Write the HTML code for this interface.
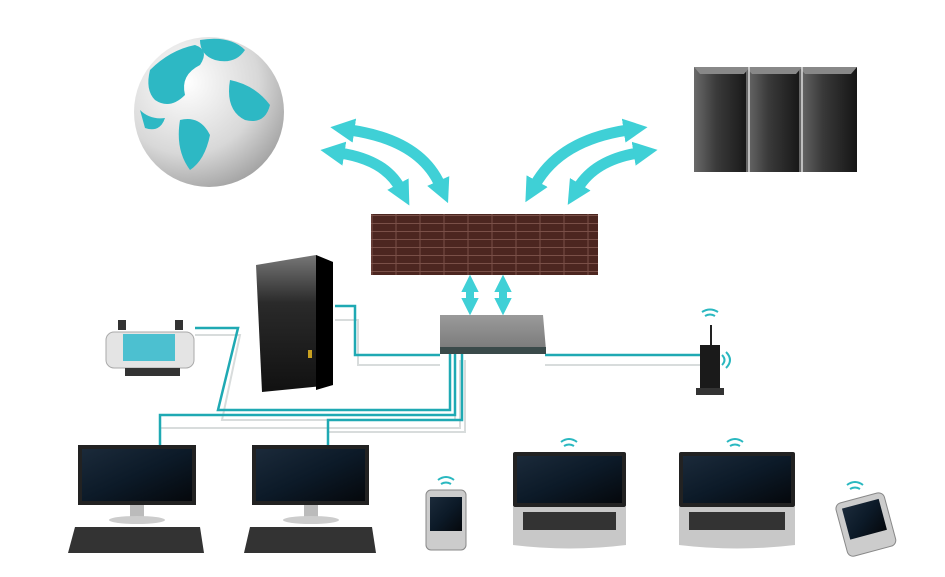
<!DOCTYPE html>
<html><head><style>html,body{margin:0;padding:0;background:#fff}svg{display:block}</style></head>
<body>
<svg width="945" height="577" viewBox="0 0 945 577" xmlns="http://www.w3.org/2000/svg">
<defs>
<radialGradient id="gl" cx="0.35" cy="0.3" r="0.8"><stop offset="0" stop-color="#ffffff"/><stop offset="0.6" stop-color="#d8d8d8"/><stop offset="1" stop-color="#9a9a9a"/></radialGradient>
<linearGradient id="srv" x1="0" x2="1"><stop offset="0" stop-color="#6a6a6a"/><stop offset="0.4" stop-color="#3a3a3a"/><stop offset="1" stop-color="#151515"/></linearGradient>
<linearGradient id="scr" x1="0" y1="0" x2="1" y2="1"><stop offset="0" stop-color="#1b2a3a"/><stop offset="0.5" stop-color="#0c1a28"/><stop offset="1" stop-color="#05080c"/></linearGradient>
<linearGradient id="sw" x1="0" y1="0" x2="0" y2="1"><stop offset="0" stop-color="#9a9a9a"/><stop offset="1" stop-color="#7a7a7a"/></linearGradient>
<linearGradient id="tw" x1="0" y1="0" x2="0" y2="1"><stop offset="0" stop-color="#777"/><stop offset="0.35" stop-color="#2a2a2a"/><stop offset="1" stop-color="#111"/></linearGradient>
<pattern id="brick" width="24" height="8" patternUnits="userSpaceOnUse"><rect width="24" height="8" fill="#4c2620"/><path d="M0 7.5H24M12 0V7.5" stroke="#7a5048" stroke-width="1"/></pattern>
<marker id="ah" markerWidth="2.2" markerHeight="2.2" refX="0.4" refY="1.1" orient="auto-start-reverse" markerUnits="strokeWidth"><path d="M0 0L2.2 1.1L0 2.2z" fill="#3fd0d6"/></marker>
</defs>

<!-- globe -->
<circle cx="209" cy="112" r="75" fill="url(#gl)"/>
<path d="M150 70 q20-20 45-25 q15 5 5 20 q-20 10-15 30 q-15 15-30 5 q-10-10-5-30z" fill="#2db8c4"/>
<path d="M200 40 q30-5 45 10 q-10 15-30 10 q-15-5-15-20z" fill="#2db8c4"/>
<path d="M180 120 q20-5 30 15 q-5 25-20 35 q-15-20-10-50z" fill="#2db8c4"/>
<path d="M230 80 q25 5 40 25 q-5 20-25 15 q-20-10-15-40z" fill="#2db8c4"/>
<path d="M140 110 q10 10 25 8 q-5 15-20 10z" fill="#2db8c4"/>

<!-- servers -->
<g>
<rect x="694" y="67" width="56" height="105" fill="url(#srv)"/>
<rect x="746" y="67" width="56" height="105" fill="url(#srv)"/>
<rect x="799" y="67" width="58" height="105" fill="url(#srv)"/>
<path d="M694 67h56l-6 7h-44z M746 67h56l-6 7h-44z M799 67h58l-6 7h-46z" fill="#888"/>
<path d="M749 67v105M802 67v105" stroke="#ddd" stroke-width="1.5"/>
</g>

<!-- curved arrows -->
<g fill="none" stroke="#3fd0d6" stroke-width="11" marker-start="url(#ah)" marker-end="url(#ah)">
<path d="M350 130 Q420 140 440 185"/>
<path d="M340 153 Q385 160 400 188"/>
<path d="M628 130 Q560 140 535 185"/>
<path d="M638 153 Q595 160 578 188"/>
</g>

<!-- wall -->
<rect x="371" y="214" width="227" height="61" fill="url(#brick)"/>

<!-- up/down arrows -->
<g fill="none" stroke="#3fd0d6" stroke-width="8" marker-start="url(#ah)" marker-end="url(#ah)">
<path d="M470 289 V301"/><path d="M503 289 V301"/>
</g>

<!-- cables -->
<g fill="none" stroke="#d8dcdc" stroke-width="2">
<path d="M195 335 H240 L222 420 H455 V360"/>
<path d="M160 450 V428 H460 V360"/>
<path d="M328 450 V432 H465 V360"/>
<path d="M335 320 H358 V365 H440"/>
<path d="M545 365 H700"/>
</g>
<g fill="none" stroke="#1fa9b3" stroke-width="2.5">
<path d="M195 328 H238 L218 410 H450 V350"/>
<path d="M160 448 V415 H455 V350"/>
<path d="M328 448 V420 H462 V350"/>
<path d="M335 306 H355 V355 H440"/>
<path d="M545 355 H700"/>
</g>

<!-- switch -->
<path d="M440 315 H543 L546 350 H440 z" fill="url(#sw)"/>
<rect x="440" y="347" width="106" height="7" fill="#3a4a4a"/>

<!-- tower -->
<path d="M256 265 L316 255 L333 262 L333 385 L262 392 z" fill="url(#tw)"/>
<path d="M316 255 L333 262 V385 L316 390z" fill="#000"/>
<rect x="308" y="350" width="4" height="8" fill="#c8a020"/>

<!-- printer -->
<rect x="118" y="320" width="8" height="10" fill="#333"/><rect x="175" y="320" width="8" height="10" fill="#333"/>
<rect x="106" y="332" width="88" height="36" rx="8" fill="#e4e4e4" stroke="#aaa"/>
<rect x="123" y="334" width="52" height="27" fill="#4cc0d0"/>
<rect x="125" y="368" width="55" height="8" fill="#333"/>

<!-- router -->
<rect x="700" y="345" width="20" height="45" fill="#1a1a1a"/>
<rect x="696" y="388" width="28" height="7" fill="#333"/>
<line x1="711" y1="345" x2="711" y2="325" stroke="#222" stroke-width="2"/>
<g fill="none" stroke="#2ab8c0" stroke-width="2">
<path d="M702 312 q8-5 16 0"/><path d="M705 316 q5-3 10 0"/>
<path d="M722 355 q5 5 0 10"/><path d="M726 352 q8 8 0 16"/>
</g>

<!-- desktops -->
<g>
<rect x="78" y="445" width="118" height="60" fill="#222"/><rect x="82" y="449" width="110" height="52" fill="url(#scr)"/>
<rect x="130" y="505" width="14" height="14" fill="#bbb"/><ellipse cx="137" cy="520" rx="28" ry="4" fill="#ccc"/>
<path d="M75 527 H200 L204 553 H68 z" fill="#333"/>
<rect x="252" y="445" width="117" height="60" fill="#222"/><rect x="256" y="449" width="109" height="52" fill="url(#scr)"/>
<rect x="304" y="505" width="14" height="14" fill="#bbb"/><ellipse cx="311" cy="520" rx="28" ry="4" fill="#ccc"/>
<path d="M250 527 H372 L376 553 H244 z" fill="#333"/>
</g>

<!-- phones -->
<rect x="426" y="490" width="40" height="60" rx="5" fill="#ccc" stroke="#888"/>
<rect x="430" y="497" width="32" height="34" fill="url(#scr)"/>
<rect x="841" y="497" width="50" height="55" rx="6" fill="#ccc" stroke="#888" transform="rotate(-15 866 525)"/>
<rect x="847" y="503" width="38" height="32" fill="url(#scr)" transform="rotate(-15 866 525)"/>

<!-- laptops -->
<rect x="513" y="452" width="113" height="55" rx="2" fill="#222"/><rect x="517" y="456" width="105" height="47" fill="url(#scr)"/>
<path d="M513 507 H626 V545 Q570 552 513 545z" fill="#c8c8c8"/><rect x="523" y="512" width="93" height="18" fill="#333"/>
<rect x="679" y="452" width="116" height="55" rx="2" fill="#222"/><rect x="683" y="456" width="108" height="47" fill="url(#scr)"/>
<path d="M679 507 H795 V545 Q737 552 679 545z" fill="#c8c8c8"/><rect x="689" y="512" width="96" height="18" fill="#333"/>

<!-- wifi icons -->
<g fill="none" stroke="#2ab8c0" stroke-width="2">
<path d="M561 442 q8-6 16 0"/><path d="M564 446 q5-3 10 0"/>
<path d="M727 442 q8-6 16 0"/><path d="M730 446 q5-3 10 0"/>
<path d="M438 480 q8-6 16 0"/><path d="M441 484 q5-3 10 0"/>
<path d="M847 485 q8-6 16 0"/><path d="M850 489 q5-3 10 0"/>
</g>
</svg>
</body></html>
